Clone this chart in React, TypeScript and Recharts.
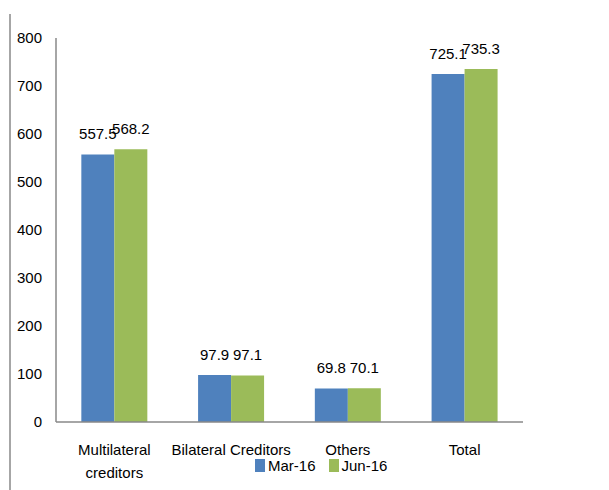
import { BarChart, Bar, XAxis, YAxis, LabelList } from "recharts";

const categories = ["Multilateral\ncreditors", "Bilateral Creditors", "Others", "Total"];
const mar16 = [557.5, 97.9, 69.8, 725.1];
const jun16 = [568.2, 97.1, 70.1, 735.3];
const yTicks = [0, 100, 200, 300, 400, 500, 600, 700, 800];
const seriesNames = ["Mar-16", "Jun-16"];

const data = categories.map((name, i) => ({ name, mar: mar16[i], jun: jun16[i] }));

const FONT = "'Liberation Sans', Arial, sans-serif";
const FS = 15;
const BLUE = "#4F81BD";
const GREEN = "#9BBB59";

function CategoryTick(props: any) {
  const { x, y, payload } = props;
  const lines = String(payload.value).split("\n");
  return (
    <text x={x} y={y} textAnchor="middle" fontSize={FS} fontFamily={FONT} fill="#000">
      {lines.map((l, i) => (
        <tspan key={i} x={x} dy={i === 0 ? 33 : 23}>
          {l}
        </tspan>
      ))}
    </text>
  );
}

function LegendBox() {
  const colors = [BLUE, GREEN];
  return (
    <div
      style={{
        position: "absolute",
        left: 255,
        top: 459,
        display: "flex",
        fontFamily: FONT,
        fontSize: FS,
        color: "#000",
      }}
    >
      {seriesNames.map((label, i) => (
        <div key={label} style={{ display: "flex", alignItems: "flex-end", marginRight: 13 }}>
          <span style={{ width: 10, height: 13, background: colors[i], display: "inline-block", marginRight: 3 }} />
          <span style={{ lineHeight: "13px", height: 13 }}>{label}</span>
        </div>
      ))}
    </div>
  );
}

export default function App() {
  const fmt = (v: any) => Number(v).toFixed(1);
  return (
    <div style={{ position: "absolute", left: 0, top: 0, width: 609, height: 490, background: "#fff" }}>
      <div style={{ position: "absolute", left: 9, top: 14, width: 2, height: 476, background: "#a6a6a6" }} />
      <BarChart
        width={609}
        height={490}
        data={data}
        margin={{ top: 38, right: 86, left: 0, bottom: 0 }}
        barCategoryGap="21.7%"
        barGap={0}
      >
        <XAxis
          dataKey="name"
          height={68}
          axisLine={{ stroke: "#888888", strokeWidth: 1.5 }}
          tickLine={false}
          tickSize={0}
          tickMargin={0}
          interval={0}
          tick={<CategoryTick />}
        />
        <YAxis
          width={56}
          domain={[0, 800]}
          ticks={yTicks}
          axisLine={{ stroke: "#888888", strokeWidth: 1.5 }}
          tickLine={false}
          tickSize={6}
          tickMargin={8}
          tick={{ fontSize: FS, fontFamily: FONT, fill: "#000" }}
        />
        <Bar dataKey="mar" name={seriesNames[0]} fill={BLUE} isAnimationActive={false}>
          <LabelList dataKey="mar" position="top" offset={15} fill="#000" fontSize={FS} fontFamily={FONT} formatter={fmt} />
        </Bar>
        <Bar dataKey="jun" name={seriesNames[1]} fill={GREEN} isAnimationActive={false}>
          <LabelList dataKey="jun" position="top" offset={15} fill="#000" fontSize={FS} fontFamily={FONT} formatter={fmt} />
        </Bar>
      </BarChart>
      <LegendBox />
    </div>
  );
}
